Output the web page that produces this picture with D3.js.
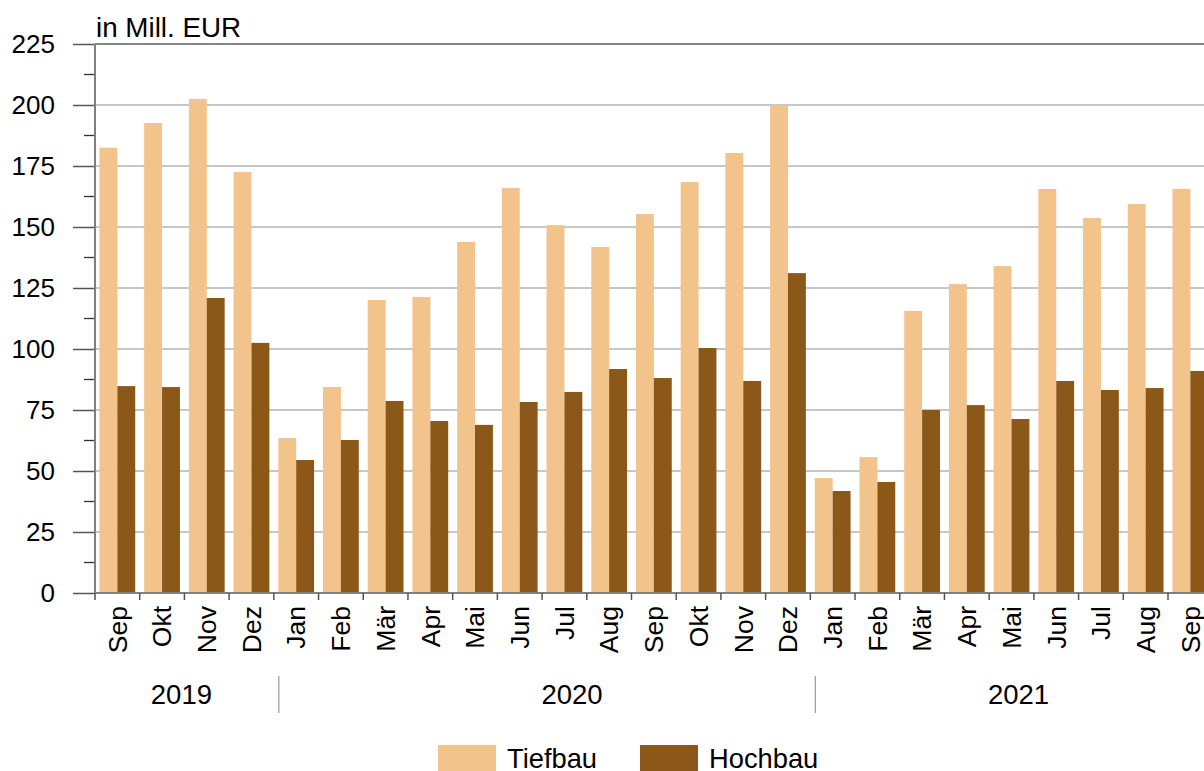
<!DOCTYPE html>
<html>
<head>
<meta charset="utf-8">
<script src="https://cdn.jsdelivr.net/npm/d3@7"></script>
<style>
  body { margin: 0; background: #fff; }
  text { font-family: "Liberation Sans", Arial, sans-serif; fill: #000; }
</style>
</head>
<body>
<div id="chart"></div>
<script>
// data
var months = ['Sep','Okt','Nov','Dez',
  'Jan','Feb','Mär','Apr','Mai','Jun','Jul','Aug','Sep','Okt','Nov','Dez',
  'Jan','Feb','Mär','Apr','Mai','Jun','Jul','Aug','Sep'];
var years = ['2019','2020','2021'];
var yearCounts = [4, 12, 9];
var tiefbau = [182.5, 192.6, 202.5, 172.5,
  63.5, 84.4, 120.1, 121.3, 143.9, 166.0, 150.8, 141.8, 155.3, 168.4, 180.3, 199.9,
  47.1, 55.7, 115.6, 126.6, 134.0, 165.6, 153.7, 159.4, 165.6];
var hochbau = [84.8, 84.4, 120.9, 102.5,
  54.5, 62.7, 78.7, 70.5, 68.9, 78.3, 82.4, 91.8, 88.1, 100.4, 86.9, 131.1,
  41.8, 45.5, 75.0, 77.0, 71.3, 86.9, 83.2, 84.0, 91.0];
var seriesNames = ['Tiefbau', 'Hochbau'];
var colors = ['#F2C38B', '#8B581A'];
var yTicks = [0, 25, 50, 75, 100, 125, 150, 175, 200, 225];

var W = 1204, H = 771;
var mLeft = 95, mTop = 44, mBottom = 593;
var step = (1168 - 95) / 24;

var svg = d3.select('#chart').append('svg')
  .attr('width', W)
  .attr('height', H);

var x = d3.scaleBand()
  .domain(d3.range(months.length))
  .range([mLeft, mLeft + step * months.length])
  .padding(0);

var y = d3.scaleLinear()
  .domain([0, 225])
  .range([mBottom, mTop]);

// gridlines
svg.selectAll('line.grid')
  .data(yTicks.slice(1))
  .enter().append('line')
  .attr('x1', mLeft).attr('x2', W)
  .attr('y1', function (d) { return y(d); })
  .attr('y2', function (d) { return y(d); })
  .attr('stroke', function (d) { return d === 225 ? '#858585' : '#b4b4b4'; })
  .attr('stroke-width', function (d) { return d === 225 ? 2 : 1.6; });

// bars
var bw = step * 0.4, off = step * 0.1;
[tiefbau, hochbau].forEach(function (vals, s) {
  svg.selectAll('rect.s' + s)
    .data(vals)
    .enter().append('rect')
    .attr('x', function (d, i) { return x(i) + off + s * bw; })
    .attr('y', function (d) { return y(d); })
    .attr('width', bw)
    .attr('height', function (d) { return y(0) - y(d); })
    .attr('fill', colors[s]);
});

// y axis
var yAxis = d3.axisLeft(y)
  .tickValues(yTicks)
  .tickSize(22)
  .tickPadding(18)
  .tickFormat(d3.format('d'));
var gy = svg.append('g')
  .attr('transform', 'translate(' + mLeft + ',0)')
  .call(yAxis);
gy.select('.domain').remove();
gy.selectAll('.tick line').attr('stroke', '#555').attr('stroke-width', 1.5);
gy.selectAll('.tick text').style('font-size', '26px').attr('fill', '#000');

// minor ticks
svg.selectAll('line.minor')
  .data(yTicks.slice(1).map(function (d) { return d - 12.5; }))
  .enter().append('line')
  .attr('x1', mLeft - 11).attr('x2', mLeft)
  .attr('y1', function (d) { return y(d); })
  .attr('y2', function (d) { return y(d); })
  .attr('stroke', '#333').attr('stroke-width', 1.3);

svg.append('line')
  .attr('x1', mLeft).attr('x2', mLeft)
  .attr('y1', mTop).attr('y2', mBottom)
  .attr('stroke', '#808080').attr('stroke-width', 2);

// x axis
svg.append('line')
  .attr('x1', mLeft).attr('x2', W)
  .attr('y1', mBottom).attr('y2', mBottom)
  .attr('stroke', '#808080').attr('stroke-width', 2);

svg.selectAll('line.xtick')
  .data(d3.range(months.length))
  .enter().append('line')
  .attr('x1', function (i) { return x(i); })
  .attr('x2', function (i) { return x(i); })
  .attr('y1', mBottom).attr('y2', mBottom + 7)
  .attr('stroke', '#555').attr('stroke-width', 1.5);

svg.selectAll('text.month')
  .data(months)
  .enter().append('text')
  .attr('transform', function (d, i) {
    return 'translate(' + (x(i) + step / 2) + ',' + 606 + ') rotate(-90)';
  })
  .attr('text-anchor', 'end')
  .attr('dy', '0.35em')
  .style('font-size', '26.5px')
  .text(function (d) { return d; });

// years
var start = 0;
var yearPos = [];
yearCounts.forEach(function (n, k) {
  yearPos.push({ name: years[k], from: start, to: start + n });
  start += n;
});
var yearShift = [-3, 30, 7];
svg.selectAll('text.year')
  .data(yearPos)
  .enter().append('text')
  .attr('x', function (d, k) { return (x(d.from) + x(d.from) + step * (d.to - d.from)) / 2 + yearShift[k]; })
  .attr('y', 704)
  .attr('text-anchor', 'middle')
  .style('font-size', '27.5px')
  .text(function (d) { return d.name; });

svg.selectAll('line.ysep')
  .data(yearPos.slice(1))
  .enter().append('line')
  .attr('x1', function (d) { return x(d.from) + 5; })
  .attr('x2', function (d) { return x(d.from) + 5; })
  .attr('y1', 676).attr('y2', 713)
  .attr('stroke', '#999').attr('stroke-width', 1.2);

// unit label
svg.append('text')
  .attr('x', 96).attr('y', 37)
  .style('font-size', '27.8px')
  .text('in Mill. EUR');

// legend
var legX = [438, 640];
var lg = svg.selectAll('g.leg')
  .data(seriesNames)
  .enter().append('g')
  .attr('transform', function (d, i) { return 'translate(' + legX[i] + ',745)'; });
lg.append('rect')
  .attr('width', 58).attr('height', 30)
  .attr('fill', function (d, i) { return colors[i]; });
lg.append('text')
  .attr('x', 69).attr('y', 23)
  .style('font-size', '27.3px')
  .text(function (d) { return d; });
</script>
</body>
</html>
